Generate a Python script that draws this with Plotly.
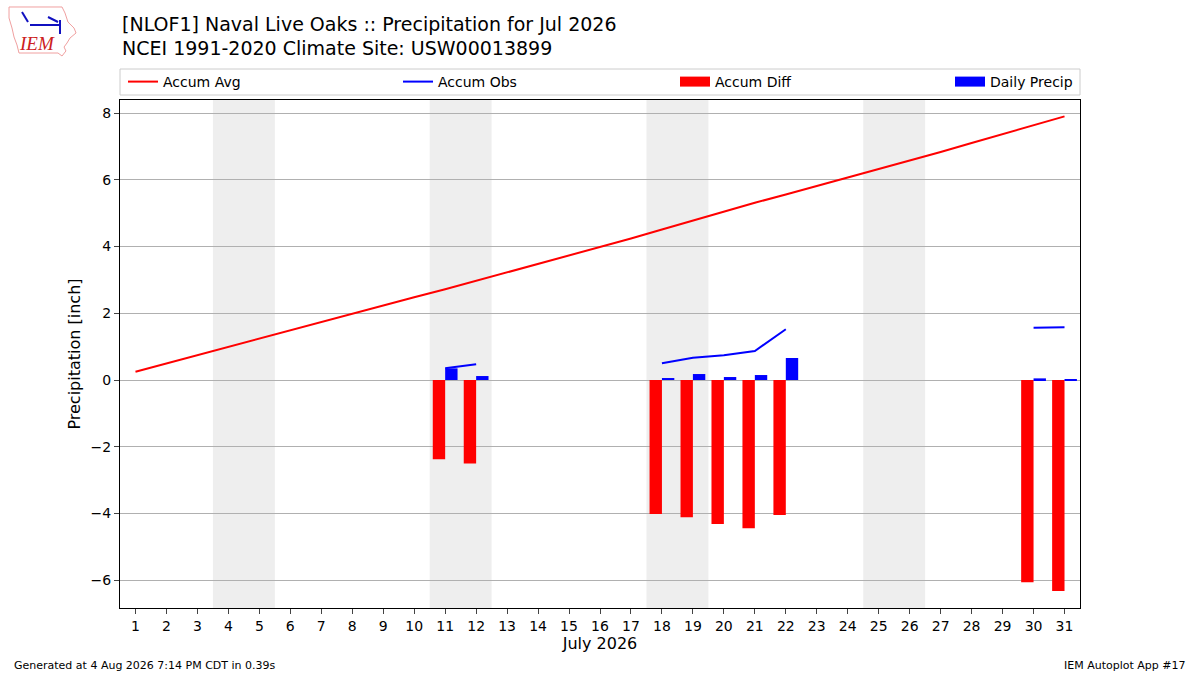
#!/usr/bin/env python
# -*- coding: utf-8 -*-
"""
Monthly precipitation accumulation vs climatology
"""

import plotly.graph_objects as go

days = list(range(1, 32))
accum_avg = [0.25, 0.50, 0.75, 0.99, 1.24, 1.49, 1.74, 1.99, 2.23, 2.48,
             2.72, 2.97, 3.22, 3.47, 3.72, 3.97, 4.24, 4.51, 4.78, 5.05,
             5.31, 5.56, 5.81, 6.06, 6.31, 6.57, 6.83, 7.10, 7.37, 7.63,
             7.90]
N = None
accum_obs = [N, N, N, N, N, N, N, N, N, N,
             0.35, 0.47, N, N, N, N, N, 0.50, 0.67, 0.74,
             0.87, 1.52, N, N, N, N, N, N, N, 1.57,
             1.58]
accum_diff = [N, N, N, N, N, N, N, N, N, N,
              -2.37, -2.50, N, N, N, N, N, -4.01, -4.11, -4.31,
              -4.44, -4.04, N, N, N, N, N, N, N, -6.06,
              -6.32]
daily_precip = [N, N, N, N, N, N, N, N, N, N,
                0.35, 0.12, N, N, N, N, N, 0.06, 0.18, 0.09,
                0.15, 0.66, N, N, N, N, N, N, N, 0.05,
                0.02]
weekends = [(3.5, 5.5), (10.5, 12.5), (17.5, 19.5), (24.5, 26.5)]
yticks = [-6, -4, -2, 0, 2, 4, 6, 8]
title_lines = ['[NLOF1] Naval Live Oaks :: Precipitation for Jul 2026',
               'NCEI 1991-2020 Climate Site: USW00013899']

font = "DejaVu Sans"
W, H = 1200, 675
L, R, T, B = 120, 120, 100, 67


def px(x, y):
    "pixel position -> paper coords"
    return (x - L) / (W - L - R), (H - B - y) / (H - T - B)


fig = go.Figure()
fig.add_trace(go.Scatter(
    x=days, y=accum_avg, mode='lines', name='Accum Avg',
    line=dict(color='red', width=2), legend='legend'
))
fig.add_trace(go.Scatter(
    x=days, y=accum_obs, mode='lines', name='Accum Obs',
    line=dict(color='blue', width=2), connectgaps=False, legend='legend2'
))
fig.add_trace(go.Bar(
    x=days, y=accum_diff, name='Accum Diff', marker_color='red',
    marker_line_width=0, width=0.4, offset=-0.4, showlegend=False
))
fig.add_trace(go.Bar(
    x=days, y=daily_precip, name='Daily Precip', marker_color='blue',
    marker_line_width=0, width=0.4, offset=0, showlegend=False
))
# wide rectangle legend keys for the bars
for name, color, leg in [('Accum Diff', 'red', 'legend3'),
                         ('Daily Precip', 'blue', 'legend4')]:
    fig.add_trace(go.Scatter(
        x=[None], y=[None], mode='lines', name=name,
        line=dict(color=color, width=10), legend=leg
    ))

for x0, x1 in weekends:
    fig.add_shape(type='rect', xref='x', yref='paper', x0=x0, x1=x1,
                  y0=0, y1=1, fillcolor='#eeeeee', line_width=0,
                  layer='below')


def legend_at(xpix):
    "one legend box per trace, placed like the matplotlib expand legend"
    return dict(
        orientation='h', x=xpix / W, xref='container', xanchor='left',
        y=1 - 82 / H, yref='container', yanchor='middle',
        bgcolor='rgba(0,0,0,0)', borderwidth=0, font=dict(size=14),
        itemwidth=30
    )


fig.update_layout(
    width=W, height=H,
    margin=dict(l=L, r=R, t=T, b=B, autoexpand=False),
    paper_bgcolor='white', plot_bgcolor='rgba(0,0,0,0)',
    font=dict(family=font, size=14, color='black'),
    barmode='overlay',
    legend=legend_at(123),
    legend2=legend_at(398),
    legend3=legend_at(675),
    legend4=legend_at(950),
    showlegend=True,
)

for i, line in enumerate(title_lines):
    tx, ty = px(120, 24 + 24 * i)
    fig.add_annotation(text=line, xref='paper', yref='paper', x=tx, y=ty,
                       xanchor='left', yanchor='middle', showarrow=False,
                       font=dict(size=19))

# legend frame
x0, y0 = px(120, 95)
x1, y1 = px(1080, 69)
fig.add_shape(type='rect', xref='paper', yref='paper', x0=x0, y0=y0,
              x1=x1, y1=y1, line=dict(color='#cccccc', width=1),
              fillcolor='rgba(0,0,0,0)')

fig.update_xaxes(
    range=[0.5, 31.5], tickvals=days, ticktext=[str(d) for d in days],
    ticks='outside', ticklen=5, showgrid=False, zeroline=False,
    showline=True, linecolor='black', mirror=True,
    title=dict(text='July 2026', font=dict(size=16), standoff=4),
    tickfont=dict(size=14)
)
fig.update_yaxes(
    range=[-6.83, 8.39], tickvals=yticks, ticks='outside', ticklen=5,
    showgrid=True, gridcolor='#b0b0b0', zeroline=False,
    showline=True, linecolor='black', mirror=True,
    title=dict(text='Precipitation [inch]', font=dict(size=16), standoff=5),
    tickfont=dict(size=14)
)

# rough stand-in for the IEM logo
outline = [(9, 7), (62, 7), (65, 13), (68, 22), (74, 28), (76, 33),
           (70, 38), (67, 43), (64, 47), (66, 51), (62, 56), (58, 53),
           (19, 53), (17, 45), (14, 37), (12, 28), (9, 18)]
path = 'M ' + ' L '.join('%.4f,%.4f' % px(x, y) for x, y in outline) + ' Z'
fig.add_shape(type='path', xref='paper', yref='paper', path=path,
              line=dict(color='#f0a0a0', width=1), fillcolor='white')
for (xa, ya), (xb, yb) in [((30, 25), (60, 25)), ((60, 20), (60, 34)),
                           ((22, 12), (28, 22)), ((48, 17), (58, 22))]:
    a, b = px(xa, ya)
    c, d = px(xb, yb)
    fig.add_shape(type='line', xref='paper', yref='paper', x0=a, y0=b,
                  x1=c, y1=d, line=dict(color='#1010c0', width=2))
lx, ly = px(37, 44)
fig.add_annotation(text='<i>IEM</i>', xref='paper', yref='paper',
                   x=lx, y=ly, xanchor='center', yanchor='middle',
                   showarrow=False,
                   font=dict(family='Liberation Serif', size=19,
                             color='#cc2020'))

fx, fy = px(12, 665)
fig.add_annotation(text='Generated at 4 Aug 2026 7:14 PM CDT in 0.39s',
                   xref='paper', yref='paper', x=fx, y=fy,
                   xanchor='left', yanchor='middle', showarrow=False,
                   font=dict(size=11))
gx, gy = px(1188, 665)
fig.add_annotation(text='IEM Autoplot App #17',
                   xref='paper', yref='paper', x=gx, y=gy,
                   xanchor='right', yanchor='middle', showarrow=False,
                   font=dict(size=11))

fig.write_html("out.html", config={'displayModeBar': False},
               post_script="document.body.style.margin='0px';")
